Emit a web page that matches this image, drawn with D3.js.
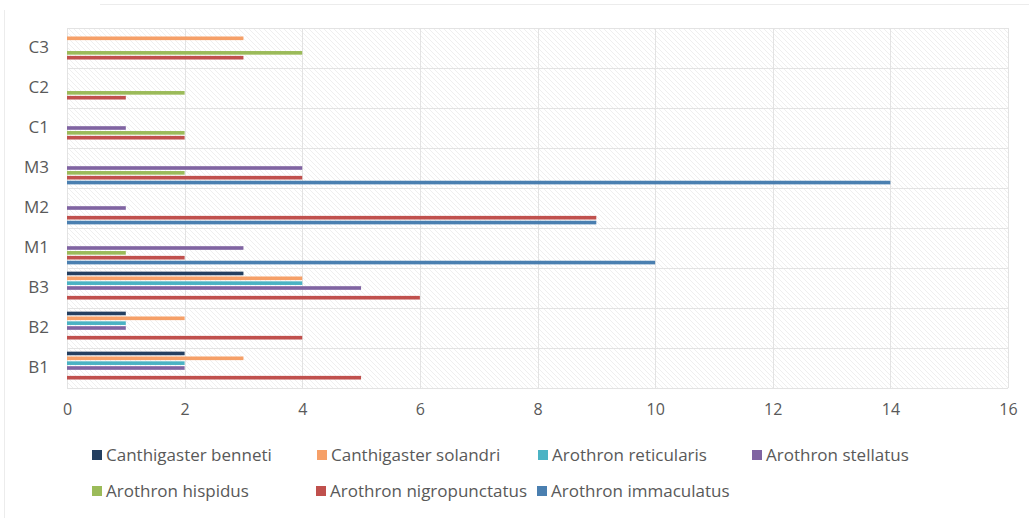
<!DOCTYPE html>
<html>
<head>
<meta charset="utf-8">
<script src="https://cdn.jsdelivr.net/npm/d3@7"></script>
<style>
  html, body { margin: 0; padding: 0; background: #fff; }
  svg { display: block; }
  text { font-family: "Open Sans", "Noto Sans", sans-serif; fill: #595959; }
</style>
</head>
<body>
<svg id="chart" width="1029" height="518"></svg>
<script>
// Sampling sites, listed bottom to top
const sites = ["B1", "B2", "B3", "M1", "M2", "M3", "C1", "C2", "C3"];

// Species (drawn top to bottom inside each site group)
const species = [
  "Canthigaster benneti",
  "Canthigaster solandri",
  "Arothron reticularis",
  "Arothron stellatus",
  "Arothron hispidus",
  "Arothron nigropunctatus",
  "Arothron immaculatus"
];

const colors = ["#243f60", "#f6a068", "#4bb3c4", "#8064a2", "#9bbb59", "#c0504d", "#4a7fb0"];

// Counts per species, in site order B1..C3
const canthigasterBenneti   = [2, 1, 3, 0, 0, 0, 0, 0, 0];
const canthigasterSolandri  = [3, 2, 4, 0, 0, 0, 0, 0, 3];
const arothronReticularis   = [2, 1, 4, 0, 0, 0, 0, 0, 0];
const arothronStellatus     = [2, 1, 5, 3, 1, 4, 1, 0, 0];
const arothronHispidus      = [0, 0, 0, 1, 0, 2, 2, 2, 4];
const arothronNigropunctatus= [5, 4, 6, 2, 9, 4, 2, 1, 3];
const arothronImmaculatus   = [0, 0, 0, 10, 9, 14, 0, 0, 0];

const xTicks = [0, 2, 4, 6, 8, 10, 12, 14, 16];

const seriesValues = [
  canthigasterBenneti, canthigasterSolandri, arothronReticularis,
  arothronStellatus, arothronHispidus, arothronNigropunctatus, arothronImmaculatus
];

const svg = d3.select("#chart");

const plot = { left: 67, right: 1008, top: 28, bottom: 388 };

const x = d3.scaleLinear().domain([0, 16]).range([plot.left, plot.right]);
// Top band is C3, so the domain runs reversed
const y = d3.scaleBand().domain(sites.slice().reverse()).range([plot.top, plot.bottom]);
const inner = d3.scaleBand().domain(species).range([0, y.bandwidth()]).paddingOuter(0.75).paddingInner(0.25);

// Frame lines around the chart object
svg.append("line").attr("x1", 100).attr("x2", 1029).attr("y1", 4.5).attr("y2", 4.5)
  .attr("stroke", "#ececec").attr("stroke-width", 1);
svg.append("line").attr("x1", 4.5).attr("x2", 4.5).attr("y1", 10).attr("y2", 518)
  .attr("stroke", "#ececec").attr("stroke-width", 1);

// Diagonal hatch fill of the plot area
const defs = svg.append("defs");
const pat = defs.append("pattern").attr("id", "hatch").attr("patternUnits", "userSpaceOnUse")
  .attr("width", 5).attr("height", 5);
pat.append("path").attr("d", "M-1,-1 L6,6 M-1,4 L1,6 M4,-1 L6,1")
  .attr("stroke", "#efefef").attr("stroke-width", 1);

svg.append("rect").attr("x", plot.left).attr("y", plot.top)
  .attr("width", plot.right - plot.left).attr("height", plot.bottom - plot.top)
  .attr("fill", "url(#hatch)");

// Vertical gridlines
svg.append("g").selectAll("line").data(xTicks).join("line")
  .attr("x1", d => Math.round(x(d)) + 0.5).attr("x2", d => Math.round(x(d)) + 0.5)
  .attr("y1", plot.top).attr("y2", plot.bottom)
  .attr("stroke", "#e3e3e3").attr("stroke-width", 1);

// Horizontal lines at band boundaries
const bounds = sites.map(s => y(s)).concat([plot.bottom]);
svg.append("g").selectAll("line").data(bounds).join("line")
  .attr("x1", plot.left).attr("x2", plot.right)
  .attr("y1", d => Math.round(d) + 0.5).attr("y2", d => Math.round(d) + 0.5)
  .attr("stroke", "#e3e3e3").attr("stroke-width", 1);

// Bars
const groups = svg.append("g").selectAll("g").data(sites).join("g")
  .attr("transform", s => `translate(0,${y(s)})`);

groups.selectAll("rect")
  .data(s => species.map((sp, k) => ({ sp, k, v: seriesValues[k][sites.indexOf(s)] })).filter(d => d.v > 0))
  .join("rect")
  .attr("x", x(0))
  .attr("y", d => inner(d.sp))
  .attr("width", d => x(d.v) - x(0))
  .attr("height", inner.bandwidth())
  .attr("fill", d => colors[d.k]);

// X axis labels
const xAxis = d3.axisBottom(x).tickValues(xTicks).tickSize(0).tickPadding(0);
const gx = svg.append("g").attr("transform", `translate(0,${plot.bottom + 16})`).call(xAxis);
gx.select(".domain").remove();
gx.selectAll("text").attr("font-size", 16).attr("fill", "#595959")
  .style("font-family", "'Open Sans', sans-serif");

// Y axis labels
const yAxis = d3.axisLeft(y).tickSize(0).tickPadding(0);
const gy = svg.append("g").attr("transform", `translate(${plot.left - 18},0)`).call(yAxis);
gy.select(".domain").remove();
gy.selectAll("text").attr("font-size", 17).attr("fill", "#595959")
  .style("font-family", "'Open Sans', sans-serif");

// Legend
const legendPos = [
  [92, 455], [317, 455], [538, 455], [752, 455],
  [92, 491], [316, 491], [537, 491]
];
const legend = svg.append("g").selectAll("g").data(species).join("g")
  .attr("transform", (d, i) => `translate(${legendPos[i][0]},${legendPos[i][1]})`);
legend.append("rect").attr("x", 0).attr("y", -5).attr("width", 10).attr("height", 10)
  .attr("fill", (d, i) => colors[i]);
legend.append("text").attr("x", 14).attr("y", 0).attr("dy", "0.35em")
  .attr("font-size", 17).text(d => d);
</script>
</body>
</html>
